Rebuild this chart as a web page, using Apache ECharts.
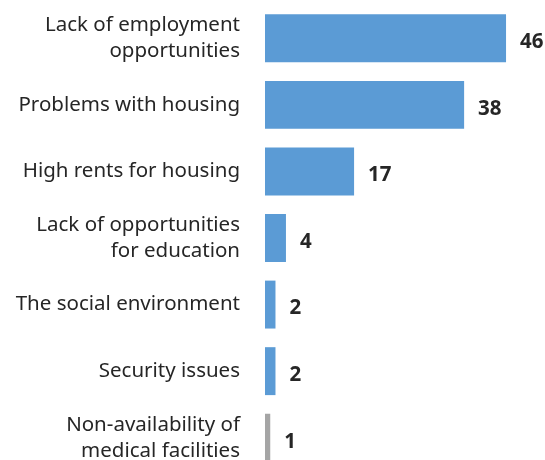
<!DOCTYPE html>
<html><head><meta charset="utf-8">
<script src="https://cdn.jsdelivr.net/npm/echarts@6/dist/echarts.min.js"></script>
<style>html,body{margin:0;padding:0;background:#fff}#c{width:545px;height:460px}</style>
</head><body><div id="c"></div>
<script>
const categories = [
  "Lack of employment\nopportunities",
  "Problems with housing",
  "High rents for housing",
  "Lack of opportunities\nfor education",
  "The social environment",
  "Security issues",
  "Non-availability of\nmedical facilities"
];
const values = [46, 38, 17, 4, 2, 2, 1];
const colors = ["#5B9BD5","#5B9BD5","#5B9BD5","#5B9BD5","#5B9BD5","#5B9BD5","#A5A5A5"];

const chart = echarts.init(document.getElementById('c'), null, {renderer:'canvas'});
chart.setOption({
  animation: false,
  grid: {left: 265, top: 5, width: 262, height: 466, containLabel: false, outerBoundsMode: 'none'},
  xAxis: {type: 'value', min: 0, max: 50, show: false},
  yAxis: {
    type: 'category', data: categories, inverse: true,
    axisLine: {show: false}, axisTick: {show: false},
    axisLabel: {fontFamily: 'Noto Sans', fontSize: 20.5, color: '#262626', margin: 25, lineHeight: 26, align: 'right', padding: [6, 0, 0, 0]}
  },
  series: [{
    type: 'bar', barCategoryGap: '28%',
    data: values.map((v, i) => ({value: v, itemStyle: {color: colors[i]}})),
    label: {show: true, position: 'right', distance: 14, offset: [0, 4], fontFamily: 'Noto Sans', fontWeight: 'bold', fontSize: 20.5, color: '#262626'}
  }]
});
</script></body></html>
